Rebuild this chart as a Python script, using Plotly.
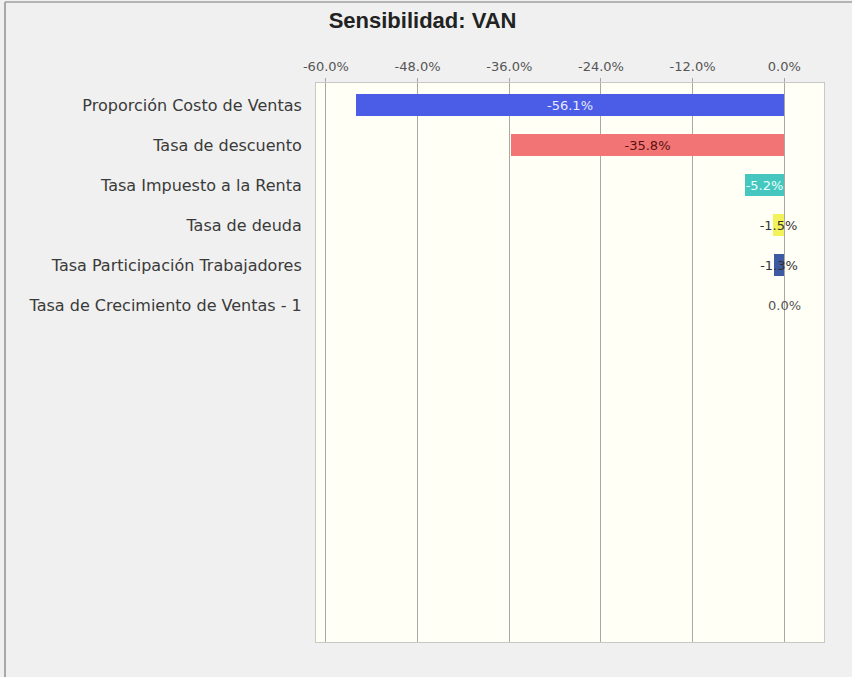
import plotly.graph_objects as go

categories = ["Proporción Costo de Ventas", "Tasa de descuento", "Tasa Impuesto a la Renta",
              "Tasa de deuda", "Tasa Participación Trabajadores", "Tasa de Crecimiento de Ventas - 1"]
values = [-56.1, -35.8, -5.2, -1.5, -1.3, 0.0]
labels = ["-56.1%", "-35.8%", "-5.2%", "-1.5%", "-1.3%", "0.0%"]
bar_colors = ["#4b5ce6", "#f27474", "#45c7bf", "#f2f25a", "#3d5aa3", "#888888"]
text_colors = ["#e8eaff", "#5a1010", "#e8fffd", "#333333", "#333333", "#555555"]
tick_vals = [-60, -48, -36, -24, -12, 0]

W, H = 852, 677
L, R, T, B = 316, 28, 83, 35
FONT = "DejaVu Sans"

fig = go.Figure(go.Bar(
    y=list(range(len(categories))), x=values, orientation="h",
    marker=dict(color=bar_colors, line=dict(width=0)),
    width=0.55, text=labels, textposition="inside", insidetextanchor="middle",
    textangle=0,
    textfont=dict(color=text_colors, size=13, family=FONT),
    constraintext="none", cliponaxis=False, showlegend=False,
))

# label for zero-valued bars (no bar to hold the text)
for i, v in enumerate(values):
    if v == 0:
        fig.add_annotation(x=v, y=i, text=labels[i], showarrow=False,
                           font=dict(color=text_colors[i], size=13, family=FONT))

fig.update_layout(
    width=W, height=H,
    margin=dict(l=L, r=R, t=T, b=B),
    paper_bgcolor="#f0f0f0", plot_bgcolor="#fffff6",
    font=dict(family=FONT, color="#444"),
    title=dict(text="<b>Sensibilidad: VAN</b>", x=0.496, xanchor="center", y=0.97, yanchor="middle",
               font=dict(size=22, color="#222", family="Liberation Sans")),
    uniformtext=dict(minsize=13, mode="show"),
    bargap=0,
)
fig.update_xaxes(
    side="top", range=[-61.3, 5.2], tickvals=tick_vals,
    ticktext=[f"{v:.1f}%" for v in tick_vals],
    showgrid=True, gridcolor="#a8a8a8", gridwidth=1, zeroline=False,
    ticks="outside", ticklen=4, tickcolor="#a8a8a8", ticklabelstandoff=2,
    tickfont=dict(size=13, color="#555", family=FONT),
    showline=True, linecolor="#c8c8c8", mirror=True,
)
fig.update_yaxes(
    range=[13.425, -0.55], tickvals=list(range(len(categories))), ticktext=categories,
    showgrid=False, zeroline=False, ticks="", ticklabelstandoff=10,
    tickfont=dict(size=16, color="#3a3a3a", family=FONT),
    showline=True, linecolor="#c8c8c8", mirror=True,
)

pw = W - L - R
ph = H - T - B
fig.add_shape(type="line", xref="paper", yref="paper",
              x0=(5 - L) / pw, x1=(5 - L) / pw, y0=-1, y1=(H - 2 - B) / ph,
              line=dict(color="#909090", width=1.5))
fig.add_shape(type="line", xref="paper", yref="paper",
              x0=(5 - L) / pw, x1=(W - L) / pw, y0=(H - 2 - B) / ph, y1=(H - 2 - B) / ph,
              line=dict(color="#a0a0a0", width=1.5))

fig.write_html("out.html", config={"displayModeBar": False},
               post_script="document.body.style.margin='0';document.body.style.padding='0';")
